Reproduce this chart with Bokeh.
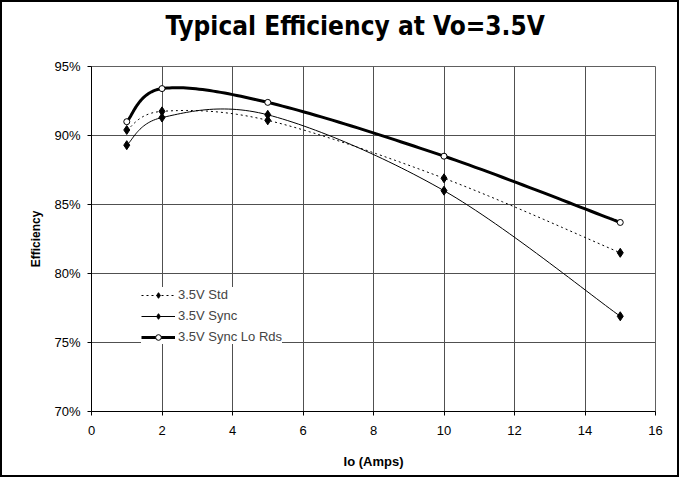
from bokeh.plotting import figure
from bokeh.models import Range1d, FixedTicker, PrintfTickFormatter, Legend, Title
from bokeh.embed import file_html
from bokeh.resources import INLINE

# Data
io_amps = [1, 2, 5, 10, 15]
eff_std = [90.4, 91.75, 91.1, 86.9, 81.5]
eff_sync = [89.3, 91.3, 91.5, 86.0, 76.9]
eff_lords = [91.0, 93.4, 92.4, 88.5, 83.7]
series_names = ["3.5V Std", "3.5V Sync", "3.5V Sync Lo Rds"]
x_ticks = [0, 2, 4, 6, 8, 10, 12, 14, 16]
y_ticks = [70, 75, 80, 85, 90, 95]
title_text = "Typical Efficiency at Vo=3.5V"


def smooth(xs, ys, n=30):
    # Excel-like smoothed line: cubic Bezier with control points from neighbours
    px, py = [], []
    m = len(xs)
    for i in range(m - 1):
        x0, y0 = (xs[i - 1], ys[i - 1]) if i > 0 else (xs[i], ys[i])
        x1, y1 = xs[i], ys[i]
        x2, y2 = xs[i + 1], ys[i + 1]
        x3, y3 = (xs[i + 2], ys[i + 2]) if i + 2 < m else (xs[i + 1], ys[i + 1])
        c1x, c1y = x1 + (x2 - x0) / 6, y1 + (y2 - y0) / 6
        c2x, c2y = x2 - (x3 - x1) / 6, y2 - (y3 - y1) / 6
        for k in range(n + 1):
            if i > 0 and k == 0:
                continue
            t = k / n
            a, b, c, d = (1 - t) ** 3, 3 * (1 - t) ** 2 * t, 3 * (1 - t) * t ** 2, t ** 3
            px.append(a * x1 + b * c1x + c * c2x + d * x2)
            py.append(a * y1 + b * c1y + c * c2y + d * y2)
    return px, py


p = figure(width=679, height=477, output_backend="svg", toolbar_location=None,
           x_range=Range1d(0, 16), y_range=Range1d(70, 95),
           min_border_left=89, min_border_right=26, min_border_top=63, min_border_bottom=68)
p.styles = {"border": "2px solid black"}
p.background_fill_color = "white"
p.outline_line_color = "#606060"
p.outline_line_width = 1

# spacer between the frame and the title (added first, so it sits nearest the frame)
spacer = Title(text=" ", standoff=3, text_font_size="12px")
p.add_layout(spacer, "above")
title = Title(text=title_text, align="left", offset=74, standoff=13,
              text_font="DejaVu Sans Condensed", text_font_size="26px",
              text_font_style="bold", text_color="black")
p.add_layout(title, "above")

p.xaxis.ticker = FixedTicker(ticks=x_ticks)
p.yaxis.ticker = FixedTicker(ticks=y_ticks)
p.yaxis.formatter = PrintfTickFormatter(format="%d%%")
for ax in (p.xaxis, p.yaxis):
    ax.axis_line_color = "black"
    ax.major_tick_line_color = "black"
    ax.major_tick_in = 0
    ax.major_tick_out = 4
    ax.minor_tick_line_color = None
    ax.major_label_text_font = "Liberation Sans"
    ax.major_label_text_font_size = "13px"
    ax.major_label_text_color = "black"
    ax.axis_label_text_font = "Liberation Sans"
    ax.axis_label_text_font_style = "bold"
    ax.axis_label_text_color = "black"
p.xaxis.axis_label = "Io (Amps)"
p.xaxis.axis_label_text_font_size = "13px"
p.xaxis.major_label_standoff = 10
p.xaxis.axis_label_standoff = 16
p.yaxis.axis_label = "Efficiency"
p.yaxis.axis_label_text_font_size = "12px"
p.yaxis.major_label_standoff = 7
p.yaxis.axis_label_standoff = 8

p.xgrid.ticker = FixedTicker(ticks=x_ticks)
p.ygrid.ticker = FixedTicker(ticks=y_ticks)
p.xgrid.grid_line_color = "#505050"
p.ygrid.grid_line_color = "#505050"
p.xgrid.grid_line_width = 1
p.ygrid.grid_line_width = 1

items = []
sx, sy = smooth(io_amps, eff_std)
l1 = p.line(sx, sy, line_color="black", line_width=1, line_dash="2 3")
m1 = p.scatter(io_amps, eff_std, marker="diamond", size=9, fill_color="black", line_color="black")
items.append((series_names[0], [l1, m1]))

sx, sy = smooth(io_amps, eff_sync)
l2 = p.line(sx, sy, line_color="black", line_width=1)
m2 = p.scatter(io_amps, eff_sync, marker="diamond", size=9, fill_color="black", line_color="black")
items.append((series_names[1], [l2, m2]))

sx, sy = smooth(io_amps, eff_lords)
l3 = p.line(sx, sy, line_color="black", line_width=3)
m3 = p.scatter(io_amps, eff_lords, marker="circle", size=6, fill_color="white", line_color="black", line_width=1)
items.append((series_names[2], [l3, m3]))

legend = Legend(items=items, location=(50, 67), border_line_color=None,
                background_fill_color="white", background_fill_alpha=1.0,
                label_text_font="Liberation Sans", label_text_font_size="13px",
                glyph_width=34, glyph_height=14, spacing=6, padding=4, margin=0,
                label_standoff=3)
p.add_layout(legend)

open("out.html", "w").write(file_html(p, INLINE))
